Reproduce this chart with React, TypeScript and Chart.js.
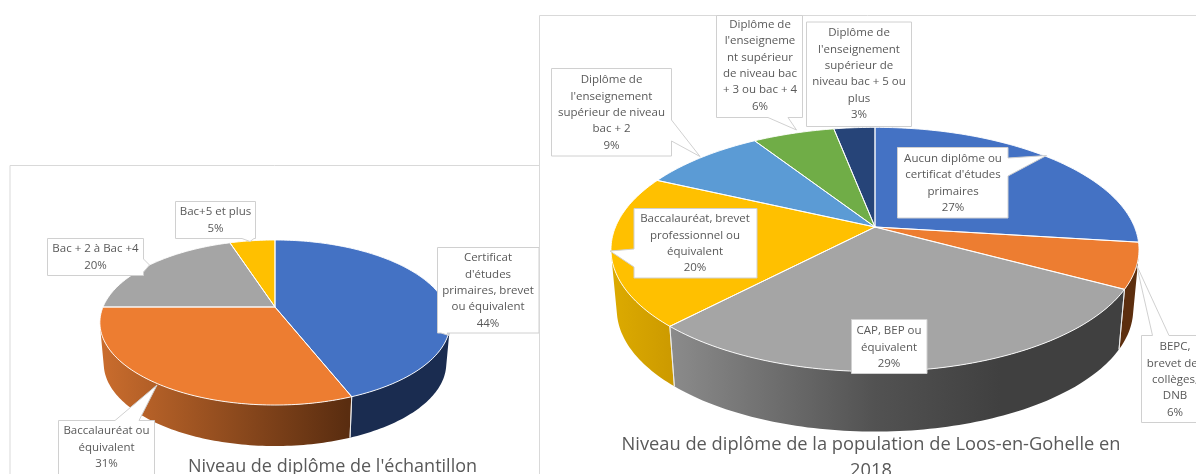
import React, { useEffect, useRef } from "react";
import { Chart, registerables } from "chart.js";

Chart.register(...registerables);

// ---- data ----
const sampleCategories = [
  "Certificat d'études primaires, brevet ou équivalent",
  "Baccalauréat ou équivalent",
  "Bac + 2 à Bac +4",
  "Bac+5 et plus",
];
const sampleValues = [44, 31, 20, 5];
const sampleLines = [
  ["Certificat", "d'études", "primaires, brevet", "ou équivalent"],
  ["Baccalauréat ou", "équivalent"],
  ["Bac + 2 à Bac +4"],
  ["Bac+5 et plus"],
];
const sampleTitle = ["Niveau de diplôme de l'échantillon"];

const popCategories = [
  "Aucun diplôme ou certificat d'études primaires",
  "BEPC, brevet des collèges, DNB",
  "CAP, BEP ou équivalent",
  "Baccalauréat, brevet professionnel ou équivalent",
  "Diplôme de l'enseignement supérieur de niveau bac + 2",
  "Diplôme de l'enseignement supérieur de niveau bac + 3 ou bac + 4",
  "Diplôme de l'enseignement supérieur de niveau bac + 5 ou plus",
];
const popValues = [27, 6, 29, 20, 9, 6, 3];
const popLines = [
  ["Aucun diplôme ou", "certificat d'études", "primaires"],
  ["BEPC,", "brevet des", "collèges,", "DNB"],
  ["CAP, BEP ou", "équivalent"],
  ["Baccalauréat, brevet", "professionnel ou", "équivalent"],
  ["Diplôme de", "l'enseignement", "supérieur de niveau", "bac + 2"],
  ["Diplôme de", "l'enseigneme", "nt supérieur", "de niveau bac", "+ 3 ou bac + 4"],
  ["Diplôme de", "l'enseignement", "supérieur de", "niveau bac + 5 ou", "plus"],
];
const popTitle = ["Niveau de diplôme de la population de Loos-en-Gohelle en", "2018"];

// ---- styles and layout ----
const TEXT = "#595959";
const FRAME = "#D9D9D9";
const FONT = '"Open Sans", sans-serif';
const LABEL_SIZE = 11.5;
const LINE_H = 16.4;

type Pt = [number, number];
type Wall = { stops: [number, string][] };
type Callout = { poly: Pt[]; cx: number; firstY: number };
type Cfg = {
  ratio: number; k: number; depth: number; shrink: number;
  walls: Wall[];
  frame: Pt[];
  title: string[]; titleX: number; titleY: number; titleLH: number; titleSize: number;
  lines: string[][]; values: number[];
  callouts: Callout[];
};

const sampleColors = ["#4472C4", "#ED7D31", "#A5A5A5", "#FFC000"];
const popColors = ["#4472C4", "#ED7D31", "#A5A5A5", "#FFC000", "#5B9BD5", "#70AD47", "#264478"];

function box(x: number, y: number, r: number, b: number, tail: { side: "t" | "r" | "b" | "l"; pts: Pt[] }): Pt[] {
  const t = tail.pts;
  if (tail.side === "r") return [[x, y], [r, y], ...t, [r, b], [x, b]];
  if (tail.side === "b") return [[x, y], [r, y], [r, b], ...t, [x, b]];
  if (tail.side === "l") return [[x, y], [r, y], [r, b], [x, b], ...t];
  return [[x, y], ...t, [r, y], [r, b], [x, b]];
}

const sampleCfg: Cfg = {
  ratio: 0.4628, k: 0.188, depth: 41, shrink: 0.978,
  walls: [
    { stops: [[0, "#1A2C50"], [1, "#1A2C50"]] },
    { stops: [[103, "#C96C2D"], [347, "#5A2D10"]] },
    { stops: [[0, "#6E6E6E"], [1, "#6E6E6E"]] },
    { stops: [[0, "#C99700"], [1, "#C99700"]] },
  ],
  frame: [[10, 474], [10, 165.5], [539.5, 165.5], [539.5, 474]],
  title: sampleTitle, titleX: 332.5, titleY: 466.5, titleLH: 26, titleSize: 18,
  lines: sampleLines, values: sampleValues,
  callouts: [
    { poly: box(437.5, 247.5, 539, 333, { side: "b", pts: [[447, 333], [449, 335.5], [441, 333]] }), cx: 488, firstY: 258 },
    { poly: box(58.5, 420.5, 154.5, 480, { side: "t", pts: [[115, 420.5], [157, 385], [139, 420.5]] }), cx: 106.5, firstY: 431 },
    { poly: box(47.5, 238.5, 143.5, 275.5, { side: "r", pts: [[143.5, 259], [149.5, 265], [143.5, 272]] }), cx: 95.5, firstY: 249 },
    { poly: box(175.5, 201.5, 255.5, 238.5, { side: "b", pts: [[254, 238.5], [250, 241.5], [242, 238.5]] }), cx: 215.5, firstY: 212 },
  ],
};

const popCfg: Cfg = {
  ratio: 0.4547, k: 0.184, depth: 60, shrink: 0.978,
  walls: [
    { stops: [[0, "#1A2C50"], [1, "#1A2C50"]] },
    { stops: [[0, "#5C2E0E"], [1, "#5C2E0E"]] },
    { stops: [[667, "#8C8C8C"], [875, "#525252"], [1000, "#404040"], [1130, "#404040"]] },
    { stops: [[617, "#DBA900"], [673, "#CC9A00"]] },
    { stops: [[0, "#3A6EA5"], [1, "#3A6EA5"]] },
    { stops: [[0, "#4E7A30"], [1, "#4E7A30"]] },
    { stops: [[0, "#1A2C50"], [1, "#1A2C50"]] },
  ],
  frame: [[539.5, 474], [539.5, 15.5], [1196, 15.5]],
  title: popTitle, titleX: 871, titleY: 445, titleLH: 26, titleSize: 18.3,
  lines: popLines, values: popValues,
  callouts: [
    { poly: box(897.5, 147.5, 1008, 218, { side: "r", pts: [[1008, 158], [1046.5, 155.5], [1008, 176]] }), cx: 953, firstY: 158.5 },
    { poly: box(1141.5, 335.5, 1210, 422.5, { side: "t", pts: [[1152.5, 335.5], [1136.5, 265], [1169, 335.5]] }), cx: 1175, firstY: 347 },
    { poly: box(851.5, 319.5, 927, 373.5, { side: "r", pts: [[927, 340], [927, 340], [927, 340]] }), cx: 889, firstY: 331 },
    { poly: box(634, 208.5, 757, 278, { side: "l", pts: [[634, 267], [610, 251], [634, 249]] }), cx: 695, firstY: 219 },
    { poly: box(551.5, 68.5, 671.5, 156, { side: "r", pts: [[671.5, 120], [700, 156.5], [671.5, 141]] }), cx: 611.5, firstY: 80 },
    { poly: box(716.5, 15.5, 802.5, 117.5, { side: "b", pts: [[788, 117.5], [796.5, 130], [768, 117.5]] }), cx: 760, firstY: 24.5 },
    { poly: box(806.5, 22, 911.5, 126.5, { side: "r", pts: [[911.5, 70], [911.5, 70], [911.5, 70]] }), cx: 859, firstY: 33 },
  ],
};

function makePlugin(cfg: Cfg) {
  return {
    id: "pie3d",
    beforeDraw(chart: any) {
      const { ctx } = chart;
      ctx.save();
      ctx.strokeStyle = FRAME;
      ctx.lineWidth = 1;
      ctx.beginPath();
      cfg.frame.forEach(([x, y], i) => (i ? ctx.lineTo(x, y) : ctx.moveTo(x, y)));
      ctx.stroke();
      ctx.restore();
    },
    beforeDatasetDraw(chart: any) {
      const { ctx } = chart;
      const arcs = chart.getDatasetMeta(0).data;
      const proj = (a: { x: number; y: number; outerRadius: number }, t: number): Pt => {
        const d = 1 - cfg.k * Math.sin(t);
        return [
          a.x + (a.outerRadius * Math.cos(t)) / d,
          a.y + (a.outerRadius * cfg.ratio * Math.sin(t)) / d,
        ];
      };
      const low = (p: Pt, a: { x: number }): Pt => [a.x + (p[0] - a.x) * cfg.shrink, p[1] + cfg.depth];
      const STEP = 0.02;
      const samples = (s: number, e: number) => {
        const out: number[] = [];
        const n = Math.max(2, Math.ceil((e - s) / STEP));
        for (let i = 0; i <= n; i++) out.push(s + ((e - s) * i) / n);
        return out;
      };
      // silhouette: the angles where the rim's tangent lines up with the wall's edge
      const ref = arcs[0];
      const facing = (t: number) => {
        const p = proj(ref, t);
        const q = proj(ref, t + 0.001);
        const l = low(p, ref);
        return (q[0] - p[0]) * (l[1] - p[1]) - (q[1] - p[1]) * (l[0] - p[0]) < 0;
      };
      let wallFrom = Math.PI / 2;
      let wallTo = Math.PI / 2;
      while (wallFrom > -1 && facing(wallFrom - 0.002)) wallFrom -= 0.002;
      while (wallTo < Math.PI + 1 && facing(wallTo + 0.002)) wallTo += 0.002;

      ctx.save();
      // side wall
      arcs.forEach((arc: any, i: number) => {
        const s = Math.max(arc.startAngle, wallFrom);
        const e = Math.min(arc.endAngle, wallTo);
        if (e <= s) return;
        const ts = samples(s, e);
        const top = ts.map((t) => proj(arc, t));
        const bot = top.map((p) => low(p, arc)).reverse();
        const stops = cfg.walls[i].stops;
        const x0 = stops[0][0];
        const x1 = stops[stops.length - 1][0];
        const g = ctx.createLinearGradient(x0, 0, x1, 0);
        stops.forEach(([x, c]) => g.addColorStop((x - x0) / (x1 - x0), c));
        ctx.beginPath();
        [...top, ...bot].forEach(([x, y], j) => (j ? ctx.lineTo(x, y) : ctx.moveTo(x, y)));
        ctx.closePath();
        ctx.fillStyle = g;
        ctx.fill();
      });
      // wall separators
      ctx.strokeStyle = "rgba(235,235,235,0.9)";
      ctx.lineWidth = 1;
      arcs.forEach((arc: any) => {
        [arc.startAngle, arc.endAngle].forEach((t: number) => {
          if (t <= wallFrom || t >= wallTo) return;
          const p = proj(arc, t);
          const q = low(p, arc);
          ctx.beginPath();
          ctx.moveTo(p[0], p[1]);
          ctx.lineTo(q[0], q[1]);
          ctx.stroke();
        });
      });
      // top face
      arcs.forEach((arc: any) => {
        const ts = samples(arc.startAngle, arc.endAngle);
        ctx.beginPath();
        ctx.moveTo(arc.x, arc.y);
        ts.forEach((t) => {
          const p = proj(arc, t);
          ctx.lineTo(p[0], p[1]);
        });
        ctx.closePath();
        ctx.fillStyle = arc.options.backgroundColor;
        ctx.fill();
      });
      arcs.forEach((arc: any) => {
        const ts = samples(arc.startAngle, arc.endAngle);
        ctx.beginPath();
        ctx.moveTo(arc.x, arc.y);
        ts.forEach((t) => {
          const p = proj(arc, t);
          ctx.lineTo(p[0], p[1]);
        });
        ctx.closePath();
        ctx.strokeStyle = "rgba(255,255,255,0.9)";
        ctx.lineWidth = 1;
        ctx.lineJoin = "round";
        ctx.stroke();
      });
      ctx.restore();
      return false;
    },
    afterDraw(chart: any) {
      const { ctx } = chart;
      ctx.save();
      ctx.textAlign = "center";
      ctx.textBaseline = "middle";
      cfg.callouts.forEach((c, i) => {
        ctx.beginPath();
        c.poly.forEach(([x, y], j) => (j ? ctx.lineTo(x, y) : ctx.moveTo(x, y)));
        ctx.closePath();
        ctx.fillStyle = "#FFFFFF";
        ctx.fill();
        ctx.strokeStyle = "#D0D0D0";
        ctx.lineWidth = 1;
        ctx.stroke();
        ctx.fillStyle = TEXT;
        ctx.font = `${LABEL_SIZE}px ${FONT}`;
        [...cfg.lines[i], `${cfg.values[i]}%`].forEach((line, j) => {
          ctx.fillText(line, c.cx, c.firstY + j * LINE_H);
        });
      });
      ctx.fillStyle = TEXT;
      ctx.font = `${cfg.titleSize}px ${FONT}`;
      cfg.title.forEach((line, j) => ctx.fillText(line, cfg.titleX, cfg.titleY + j * cfg.titleLH));
      ctx.restore();
    },
  };
}

function buildChart(
  canvas: HTMLCanvasElement,
  labels: string[],
  values: number[],
  colors: string[],
  radius: number,
  padding: { left: number; right: number; top: number; bottom: number },
  cfg: Cfg
) {
  return new Chart(canvas, {
    type: "pie",
    data: { labels, datasets: [{ data: values, backgroundColor: colors, borderWidth: 0 }] },
    options: {
      animation: false,
      responsive: false,
      radius,
      layout: { padding },
      plugins: { legend: { display: false }, tooltip: { enabled: false }, title: { display: false } },
    } as any,
    plugins: [makePlugin(cfg)],
  });
}

export default function App() {
  const leftRef = useRef<HTMLCanvasElement>(null);
  const rightRef = useRef<HTMLCanvasElement>(null);
  useEffect(() => {
    const a = buildChart(leftRef.current!, sampleCategories, sampleValues, sampleColors, 172,
      { left: 0, right: 646, top: 140, bottom: 0 }, sampleCfg);
    const b = buildChart(rightRef.current!, popCategories, popValues, popColors, 259.5,
      { left: 554, right: 0, top: 0, bottom: 20 }, popCfg);
    return () => {
      a.destroy();
      b.destroy();
    };
  }, []);
  const st: React.CSSProperties = { position: "absolute", left: 0, top: 0, display: "block", filter: "blur(0.35px)" };
  return (
    <div style={{ position: "fixed", left: 0, top: 0, width: 1196, height: 474, overflow: "hidden", background: "#fff" }}>
      <canvas ref={leftRef} width={1196} height={474} style={st} />
      <canvas ref={rightRef} width={1196} height={474} style={st} />
    </div>
  );
}
